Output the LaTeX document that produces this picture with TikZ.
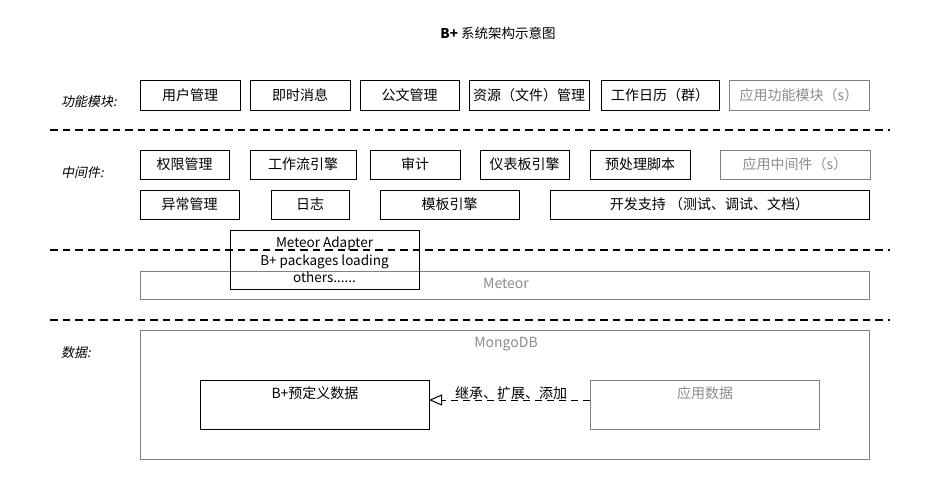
\documentclass[tikz,border=0pt]{standalone}
\usepackage{fontspec}
\setmainfont{Noto Sans CJK SC}
\newfontfamily\slfont{Noto Sans CJK SC}[FakeSlant=0.2]
\usetikzlibrary{arrows.meta}
\definecolor{boxgray}{RGB}{128,128,128}
\definecolor{txtgray}{RGB}{140,140,140}
\newcommand\bx[7]{\node[#6, minimum width={(#4-#2)*1pt}, minimum height={(#5-#3)*1pt}] (#1) at ({(#2+#4)/2},{(#3+#5)/2}) {#7};}
\tikzset{
  base/.style={inner sep=0pt, outer sep=0pt, font=\fontsize{14}{16}\selectfont},
  blk/.style={base, draw=black, line width=1pt},
  gry/.style={base, draw=boxgray, line width=1pt, text=txtgray},
  sep/.style={line width=1.2pt, dash pattern=on 7.5pt off 5pt},
  lbl/.style={inner sep=0pt, anchor=west, font=\fontsize{13}{15}\selectfont\slfont},
}
\begin{document}
\begin{tikzpicture}[x=1pt,y=-1pt]
\fill[white] (0,0) rectangle (930,480);
\useasboundingbox (0,0) rectangle (930,480);

% title
\node[inner sep=0pt, font=\fontsize{13.5}{15}\selectfont] (title) at (498,33) {\textbf{B+} 系统架构示意图};

% left labels
\node[lbl] (l1) at (61,102) {功能模块:};
\node[lbl] (l2) at (61,173) {中间件:};
\node[lbl] (l3) at (61,353) {数据:};

% row 1
\bx{r1a}{140}{80}{240}{110}{blk}{用户管理}
\bx{r1b}{250}{80}{350}{110}{blk}{即时消息}
\bx{r1c}{360}{80}{459}{110}{blk}{公文管理}
\bx{r1d}{469}{80}{589}{110}{blk}{资源（文件）管理}
\bx{r1e}{601}{80}{719}{110}{blk}{工作日历（群）}
\bx{r1f}{729}{80}{869}{110}{gry}{应用功能模块（s）}

% separators
\coordinate (s1a) at (50,130); \coordinate (s1b) at (890,130);
\coordinate (s2a) at (50,250); \coordinate (s2b) at (890,250);
\coordinate (s3a) at (50,320); \coordinate (s3b) at (890,320);
\draw[sep] (s1a) -- (s1b);
\draw[sep] (s2a) -- (s2b);
\draw[sep] (s3a) -- (s3b);

% row 2
\bx{r2a}{140}{150}{229}{179}{blk}{权限管理}
\bx{r2b}{250}{150}{356}{179}{blk}{工作流引擎}
\bx{r2c}{370}{150}{460}{179}{blk}{审计}
\bx{r2d}{480}{150}{569}{179}{blk}{仪表板引擎}
\bx{r2e}{590}{150}{690}{179}{blk}{预处理脚本}
\bx{r2f}{720}{150}{870}{179}{gry}{应用中间件（s）}

% row 3
\bx{r3a}{140}{190}{239}{219}{blk}{异常管理}
\bx{r3b}{271}{190}{349}{219}{blk}{日志}
\bx{r3c}{380}{190}{519}{219}{blk}{模板引擎}
\bx{r3d}{550}{190}{869}{219}{blk}{开发支持 （测试、调试、文档）}

% Meteor
\bx{meteor}{140}{271}{869}{299}{gry}{}
\node[base, text=txtgray] (meteortxt) at (506,283) {Meteor};
\bx{adapter}{230}{230}{419}{289}{blk}{}
\node[base, align=center, font=\fontsize{13.5}{17.5}\selectfont] (adaptertxt) at (324.5,260) {Meteor Adapter\\B+ packages loading\\others......};

% MongoDB
\bx{mongo}{140}{330}{869}{459}{gry}{}
\node[base, text=txtgray] (mongotxt) at (506,344) {MongoDB};
\bx{bpre}{200}{380}{429}{429}{blk}{}
\node[base] (bpretxt) at (315,393) {B+预定义数据};
\bx{appdata}{590}{380}{819}{429}{gry}{}
\node[base, text=txtgray] (appdatatxt) at (705,393) {应用数据};

% arrow
\draw[line width=1pt, dash pattern=on 7pt off 5pt, -{Triangle[open, length=13pt, width=11pt]}] (appdata.west |- 0,400) coordinate (arrs) -- (bpre.east |- 0,400) coordinate (arre);
\node[base] (arrlbl) at (511,393) {继承、扩展、添加};
\end{tikzpicture}
\end{document}
